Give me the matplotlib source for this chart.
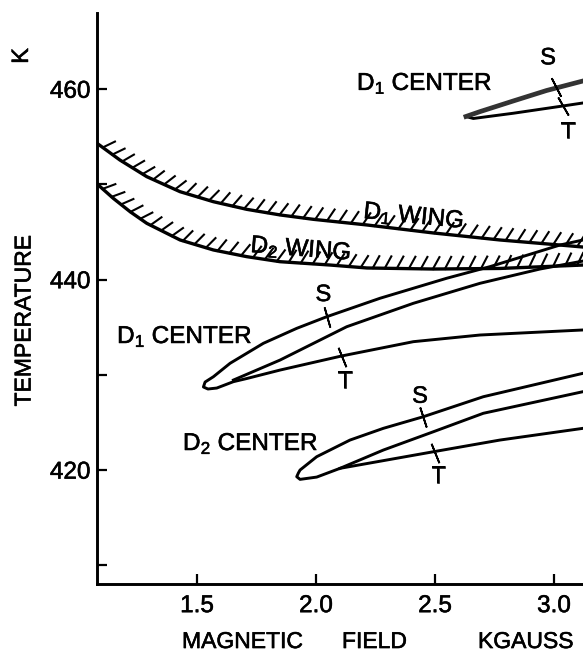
import numpy as np
import matplotlib
matplotlib.use("Agg")
import matplotlib.pyplot as plt
from matplotlib import patheffects as pe

plt.rcParams['font.family'] = ['Liberation Sans', 'DejaVu Sans']
plt.rcParams['mathtext.fontset'] = 'custom'
plt.rcParams['mathtext.rm'] = 'Liberation Sans'
plt.rcParams['mathtext.it'] = 'Liberation Sans:italic'

# ---- axis ticks ----
x_ticks = [1.5, 2.0, 2.5, 3.0]
x_tick_labels = ["1.5", "2.0", "2.5", "3.0"]
y_ticks = [410, 420, 430, 440, 450, 460]
y_tick_labels = ["", "420", "", "440", "", "460"]

# ---- wing curves (hatched) ----
d1_wing_x = [1.084, 1.176, 1.289, 1.429, 1.569, 1.709, 1.849, 1.989, 2.213, 2.492, 2.773, 3.025, 3.122]
d1_wing_y = [454.25, 452.57, 450.82, 449.24, 448.19, 447.39, 446.80, 446.34, 445.75, 444.91, 444.17, 443.64, 443.43]

d2_wing_x = [1.085, 1.148, 1.219, 1.289, 1.429, 1.569, 1.709, 1.849, 2.059, 2.214, 2.492, 2.773, 3.122]
d2_wing_y = [449.95, 448.55, 447.14, 445.92, 444.17, 443.12, 442.42, 441.89, 441.54, 441.23, 441.12, 441.18, 441.54]

# ---- D1 center (middle) ----
d1c_low_x = [1.527, 1.546, 1.583, 1.653, 1.709, 1.849, 2.108, 2.409, 2.689, 3.122]
d1c_low_y = [428.73, 428.52, 428.62, 429.29, 429.62, 430.51, 431.99, 433.49, 434.19, 434.72]
d1c_up_x = [1.527, 1.534, 1.569, 1.639, 1.779, 1.919, 2.045, 2.269, 2.549, 2.731, 3.025, 3.122]
d1c_up_y = [428.73, 429.25, 429.81, 431.22, 433.32, 434.89, 436.11, 438.05, 440.15, 441.37, 443.64, 444.17]
d1c_mid_x = [1.653, 1.849, 2.129, 2.409, 2.689, 2.941, 3.122]
d1c_mid_y = [429.46, 431.56, 435.06, 437.52, 439.62, 441.12, 441.96]

# ---- D2 center ----
d2c_low_x = [1.919, 1.933, 2.003, 2.101, 2.493, 2.773, 3.122]
d2c_low_y = [419.31, 419.03, 419.27, 420.19, 421.93, 423.16, 424.39]
d2c_up_x = [1.919, 1.926, 1.933, 2.003, 2.143, 2.283, 2.451, 2.703, 3.122]
d2c_up_y = [419.31, 419.70, 420.01, 421.41, 423.16, 424.39, 425.61, 427.71, 430.17]
d2c_mid_x = [2.101, 2.283, 2.493, 2.703, 3.122]
d2c_mid_y = [420.19, 422.11, 424.03, 425.97, 428.24]

# ---- D1 center (top) ----
top_up_x = [2.630, 2.689, 2.829, 2.969, 3.122]
top_up_y = [457.14, 457.65, 458.77, 459.87, 460.87]
top_low_x = [2.630, 2.661, 2.829, 3.039, 3.122]
top_low_y = [457.14, 456.93, 457.48, 458.25, 458.56]

# ---- S / T crossing marks: x, y, lean angle ----
mark_x = [2.046, 2.108, 2.4475, 2.500, 3.008, 3.038]
mark_y = [436.08, 431.88, 425.53, 421.80, 460.24, 458.25]
mark_ang = [16, 22, 18, 22, 27, 30]
mark_txt = ["S", "T", "S", "T", "S", "T"]
mark_lx = [2.031, 2.122, 2.437, 2.514, 2.975, 3.059]
mark_ly = [438.39, 429.29, 427.71, 419.31, 463.25, 455.51]

# ---- curve labels ----
lab_txt = [r"D$_1$ CENTER", r"D$_1$ CENTER", r"D$_2$ CENTER", r"D$_1$ WING", r"D$_2$ WING"]
lab_x = [2.172, 1.164, 1.441, 2.197, 1.723]
lab_y = [459.93, 433.35, 422.11, 446.48, 442.91]
lab_rot = [0, 0, 0, -5.7, -4.5]

bold = [pe.withStroke(linewidth=0.4, foreground='k')]

fig = plt.figure(figsize=(5.83, 6.62), dpi=100)
ax = fig.add_axes([0.1672, 0.1178, 0.8328, 0.8626])
ax.set_xlim(1.0819, 3.1218)
ax.set_ylim(408.04, 468.01)

for s in ['top', 'right']:
    ax.spines[s].set_visible(False)
for s in ['left', 'bottom']:
    ax.spines[s].set_linewidth(2.1)

ax.set_xticks(x_ticks)
ax.set_xticklabels(x_tick_labels)
ax.set_yticks(y_ticks)
ax.set_yticklabels(y_tick_labels)
ax.tick_params(axis='both', direction='in', length=7, width=1.6, labelsize=17.5)
ax.tick_params(axis='x', pad=8)
ax.tick_params(axis='y', pad=5)
for lbl in ax.get_xticklabels() + ax.get_yticklabels():
    lbl.set_path_effects(bold)

hatch = [pe.withTickedStroke(angle=62, spacing=8.5, length=1.15, linewidth=1.5)]
ax.plot(d1_wing_x, d1_wing_y, color='k', lw=2.4, path_effects=hatch)
ax.plot(d2_wing_x, d2_wing_y, color='k', lw=2.4, path_effects=hatch)

def hairpin(lx, ly, ux, uy):
    return list(lx[::-1]) + list(ux[1:]), list(ly[::-1]) + list(uy[1:])

for lx, ly, ux, uy in [(d1c_low_x, d1c_low_y, d1c_up_x, d1c_up_y),
                       (d2c_low_x, d2c_low_y, d2c_up_x, d2c_up_y)]:
    hx, hy = hairpin(lx, ly, ux, uy)
    ax.plot(hx, hy, color='k', lw=2.1, solid_joinstyle='round')
ax.plot(d1c_mid_x, d1c_mid_y, color='k', lw=2.1)
ax.plot(d2c_mid_x, d2c_mid_y, color='k', lw=2.1)

hx, hy = hairpin(top_low_x, top_low_y, top_up_x, top_up_y)
ax.plot(hx, hy, color='k', lw=2.1, solid_joinstyle='round')
ax.plot(top_up_x, top_up_y, color='#333333', lw=3.4)

for x, y, a in zip(mark_x, mark_y, mark_ang):
    ax.plot([x], [y], ls='none', marker=(2, 2, a), ms=15, mew=1.3, color='k')
for t, x, y in zip(mark_txt, mark_lx, mark_ly):
    ax.text(x, y, t, fontsize=17, ha='center', va='center', path_effects=bold)

for t, x, y, r in zip(lab_txt, lab_x, lab_y, lab_rot):
    ax.text(x, y, t, fontsize=17.5, ha='left', va='baseline', rotation=r,
            rotation_mode='anchor', path_effects=bold)

fig.text(0.3122, 0.0211, "MAGNETIC", fontsize=16.5, ha='left', va='baseline', path_effects=bold)
fig.text(0.5866, 0.0211, "FIELD", fontsize=16.5, ha='left', va='baseline', path_effects=bold)
fig.text(0.8199, 0.0211, "KGAUSS", fontsize=16.5, ha='left', va='baseline', path_effects=bold)
fig.text(0.0412, 0.515, "TEMPERATURE", fontsize=16.5, rotation=90, ha='center', va='center', path_effects=bold)
fig.text(0.0377, 0.9154, "K", fontsize=17, rotation=90, ha='center', va='center', path_effects=bold)

fig.savefig("out.png", dpi=100)
